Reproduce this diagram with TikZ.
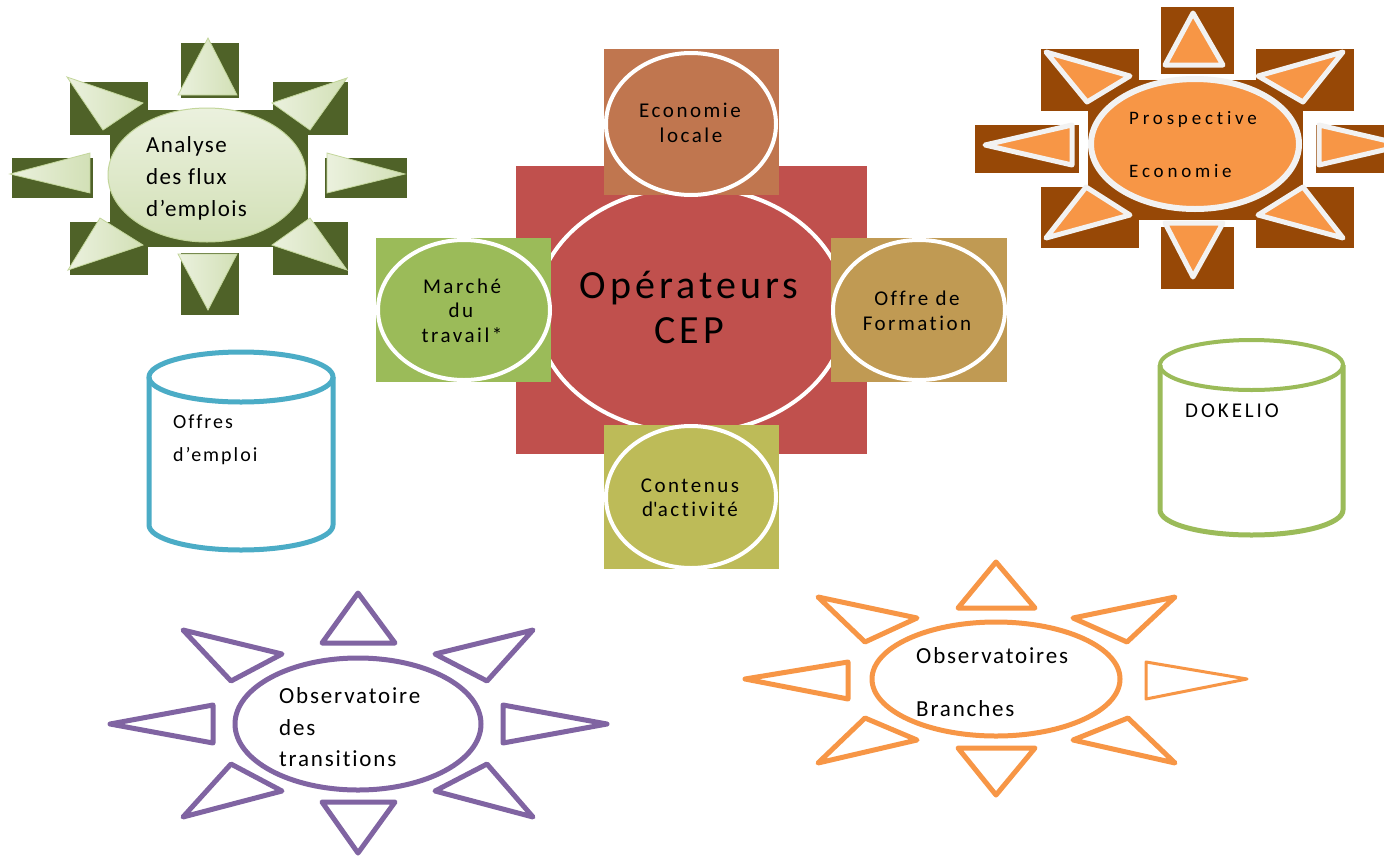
\documentclass[tikz,border=0pt]{standalone}
\usepackage{fontspec}
\setmainfont[Ligatures={TeX,NoCommon}]{Carlito}
\usetikzlibrary{shapes.geometric}
\definecolor{gdark}{HTML}{4F6228}
\definecolor{glight}{HTML}{EBF1DE}
\definecolor{gmid}{HTML}{D2E0B6}
\definecolor{gborder}{HTML}{C3D69B}
\definecolor{brownd}{HTML}{974806}
\definecolor{orng}{HTML}{F79646}
\definecolor{offw}{HTML}{F2F2F2}
\definecolor{purp}{HTML}{8064A2}
\definecolor{redc}{HTML}{C0504D}
\definecolor{ecoc}{HTML}{C0764F}
\definecolor{marc}{HTML}{9BBB59}
\definecolor{offc}{HTML}{C09A53}
\definecolor{conc}{HTML}{BDBB58}
\definecolor{cyanc}{HTML}{4BACC6}
\tikzset{
  lbl/.style={inner sep=0pt, text=black},
  gtri/.style={draw=gborder, line width=0.8pt, left color=glight, right color=gmid},
  otri/.style={draw=offw, line width=5pt, fill=orng, line join=round},
  ptri/.style={draw=purp, line width=5pt, line join=round},
  ootri/.style={draw=orng, line width=5pt, line join=round},
  cyl/.style={draw=#1, line width=5pt, fill=white, line join=round},
  wcirc/.style={draw=white, line width=4pt, fill=#1},
}
\begin{document}
\begin{tikzpicture}[x=1pt,y=-1pt]
\useasboundingbox (0,0) rectangle (1384,857);
\fill[white] (0,0) rectangle (1384,857);
\clip (0,0) rectangle (1384,857);

% ---------- green sun
\fill[gdark] (181,43) rectangle (239,98);
\fill[gdark] (181,253) rectangle (239,315);
\fill[gdark] (12,158) rectangle (93,198);
\fill[gdark] (325,158) rectangle (407,198);
\fill[gdark] (70,82) rectangle (148,135);
\fill[gdark] (273,82) rectangle (348,135);
\fill[gdark] (70,222) rectangle (148,275);
\fill[gdark] (273,222) rectangle (348,275);
\fill[gdark] (110,110) rectangle (308,247);
\path[draw=gborder, line width=1pt, top color=glight, bottom color=gmid] (207,175) ellipse [x radius=99pt, y radius=67pt];
\path[gtri] (208,38) -- (178,95) -- (237,95) -- cycle;
\path[gtri] (178,254) -- (237,254) -- (208,310) -- cycle;
\path[gtri] (10,174) -- (90,153) -- (90,193) -- cycle;
\path[gtri] (405,174) -- (327,153) -- (327,193) -- cycle;
\path[gtri] (67,77) -- (143,103) -- (103,130) -- cycle;
\path[gtri] (347,78) -- (272,103) -- (310,130) -- cycle;
\path[gtri] (100,218) -- (143,245) -- (68,270) -- cycle;
\path[gtri] (310,218) -- (272,245) -- (347,270) -- cycle;
\tikzset{ana/.style={lbl, anchor=base west, font=\fontsize{23}{28}\selectfont\addfontfeature{LetterSpace=6}}}
\node[ana] (an1) at (146,152) {Analyse};
\node[ana] (an2) at (146,184) {des flux};
\node[ana] (an3) at (146,216) {d’emplois};

% ---------- orange filled sun
\fill[brownd] (1161,7) rectangle (1234,74);
\fill[brownd] (1161,227) rectangle (1234,289);
\fill[brownd] (975,125) rectangle (1079,173);
\fill[brownd] (1316,125) rectangle (1384,173);
\fill[brownd] (1041,49) rectangle (1139,111);
\fill[brownd] (1256,49) rectangle (1354,111);
\fill[brownd] (1041,187) rectangle (1139,248);
\fill[brownd] (1256,187) rectangle (1354,248);
\fill[brownd] (1088,80) rectangle (1303,220);
\path[draw=offw, line width=6pt, fill=orng] (1195,144) ellipse [x radius=104pt, y radius=65pt];
\path[otri] (1193,13) -- (1165,65) -- (1223,65) -- cycle;
\path[otri] (1165,223) -- (1223,223) -- (1193,277) -- cycle;
\path[otri] (985,145) -- (1072,125) -- (1072,165) -- cycle;
\path[otri] (1405,145) -- (1319,125) -- (1319,165) -- cycle;
\path[otri] (1046,52) -- (1130,76) -- (1087,102) -- cycle;
\path[otri] (1343,52) -- (1258,76) -- (1303,102) -- cycle;
\path[otri] (1086,187) -- (1130,215) -- (1046,238) -- cycle;
\path[otri] (1303,187) -- (1258,215) -- (1343,238) -- cycle;
\tikzset{pro/.style={lbl, anchor=base west, font=\fontsize{19}{24}\selectfont\addfontfeature{LetterSpace=20}}}
\node[pro] (pr1) at (1129,124) {Prospective};
\node[pro] (pr2) at (1129,177) {Economie};

% ---------- centre cluster
\fill[redc] (516,166) rectangle (867,454);
\path[wcirc=redc] (691,310) ellipse [x radius=155pt, y radius=123pt];
\fill[ecoc] (604,49) rectangle (779,195);
\fill[marc] (376,238) rectangle (551,382);
\fill[offc] (831,238) rectangle (1007,382);
\fill[conc] (604,425) rectangle (779,569);
\path[wcirc=ecoc] (691,124) ellipse [x radius=85pt, y radius=71pt];
\path[wcirc=marc] (464,310) ellipse [x radius=86pt, y radius=70pt];
\path[wcirc=offc] (919,310) ellipse [x radius=86pt, y radius=70pt];
\path[wcirc=conc] (691,497) ellipse [x radius=85pt, y radius=71pt];
\tikzset{small/.style={lbl, anchor=base, font=\fontsize{21}{26}\selectfont\addfontfeature{LetterSpace=12}}}
\node[small] (ec1) at (690,117) {Economie};
\node[small] (ec2) at (691,142) {locale};
\node[small] (ma1) at (462,293) {Marché};
\node[small] (ma2) at (461,317) {du};
\node[small] (ma3) at (462,342) {travail*};
\node[small] (of1) at (917,305) {Offre de};
\node[small] (of2) at (917,330) {Formation};
\node[small] (co1) at (690,492) {Contenus};
\node[small] (co2) at (690,516) {d\textquotesingle activité};
\tikzset{big/.style={lbl, anchor=base, font=\fontsize{40}{48}\selectfont\addfontfeature{LetterSpace=10}}}
\node[big] (op1) at (689,298) {Opérateurs};
\node[big] (op2) at (689,343) {CEP};

% ---------- cylinders
\path[cyl=cyanc] (149,377) -- (149,525) arc[start angle=180, end angle=360, x radius=92pt, y radius=25pt] -- (333,377);
\path[draw=cyanc, line width=5pt] (241,377) ellipse [x radius=92pt, y radius=25pt];
\tikzset{cyt/.style={lbl, anchor=base west, font=\fontsize{20}{24}\selectfont\addfontfeature{LetterSpace=10}}}
\node[cyt] (cy1) at (173,428) {Offres};
\node[cyt] (cy2) at (173,461) {d’emploi};

\path[cyl=marc] (1160,365) -- (1160,510) arc[start angle=180, end angle=360, x radius=91.5pt, y radius=25pt] -- (1343,365);
\path[draw=marc, line width=4pt] (1251.5,365) ellipse [x radius=91.5pt, y radius=25pt];
\node[lbl, anchor=base west, font=\fontsize{21}{24}\selectfont\addfontfeature{LetterSpace=14}] (dk) at (1185,417) {DOKELIO};

% ---------- purple outline sun
\path[draw=purp, line width=5pt] (358,724) ellipse [x radius=123pt, y radius=66pt];
\path[ptri] (358,593) -- (322,643) -- (395,643) -- cycle;
\path[ptri] (322,802) -- (395,802) -- (358,853) -- cycle;
\path[ptri] (110,724) -- (213,705) -- (213,743) -- cycle;
\path[ptri] (607,724) -- (503,705) -- (503,743) -- cycle;
\path[ptri] (183,630) -- (282,654) -- (231,681) -- cycle;
\path[ptri] (533,630) -- (435,654) -- (487,681) -- cycle;
\path[ptri] (231,764) -- (282,791) -- (183,817) -- cycle;
\path[ptri] (487,764) -- (435,791) -- (533,817) -- cycle;
\tikzset{obs/.style={lbl, anchor=base west, font=\fontsize{23}{28}\selectfont\addfontfeature{LetterSpace=8}}}
\node[obs] (ob1) at (279,703) {Observatoire};
\node[obs] (ob2) at (279,735) {des};
\node[obs] (ob3) at (279,766) {transitions};

% ---------- orange outline sun
\path[draw=orng, line width=5pt] (996,679) ellipse [x radius=124pt, y radius=57pt];
\path[ootri] (996,562) -- (958,608) -- (1035,608) -- cycle;
\path[ootri] (958,748) -- (1035,748) -- (996,795) -- cycle;
\path[ootri] (745,679) -- (848,662) -- (848,699) -- cycle;
\path[ootri, line width=3pt] (1247,679) -- (1146,662) -- (1146,699) -- cycle;
\path[ootri] (818,597) -- (917,618) -- (865,642) -- cycle;
\path[ootri] (1175,597) -- (1073,618) -- (1127,642) -- cycle;
\path[ootri] (865,718) -- (917,740) -- (818,763) -- cycle;
\path[ootri] (1128,718) -- (1073,740) -- (1175,763) -- cycle;
\node[obs] (br1) at (916,663) {Observatoires};
\node[obs] (br2) at (916,716) {Branches};
\end{tikzpicture}
\end{document}
